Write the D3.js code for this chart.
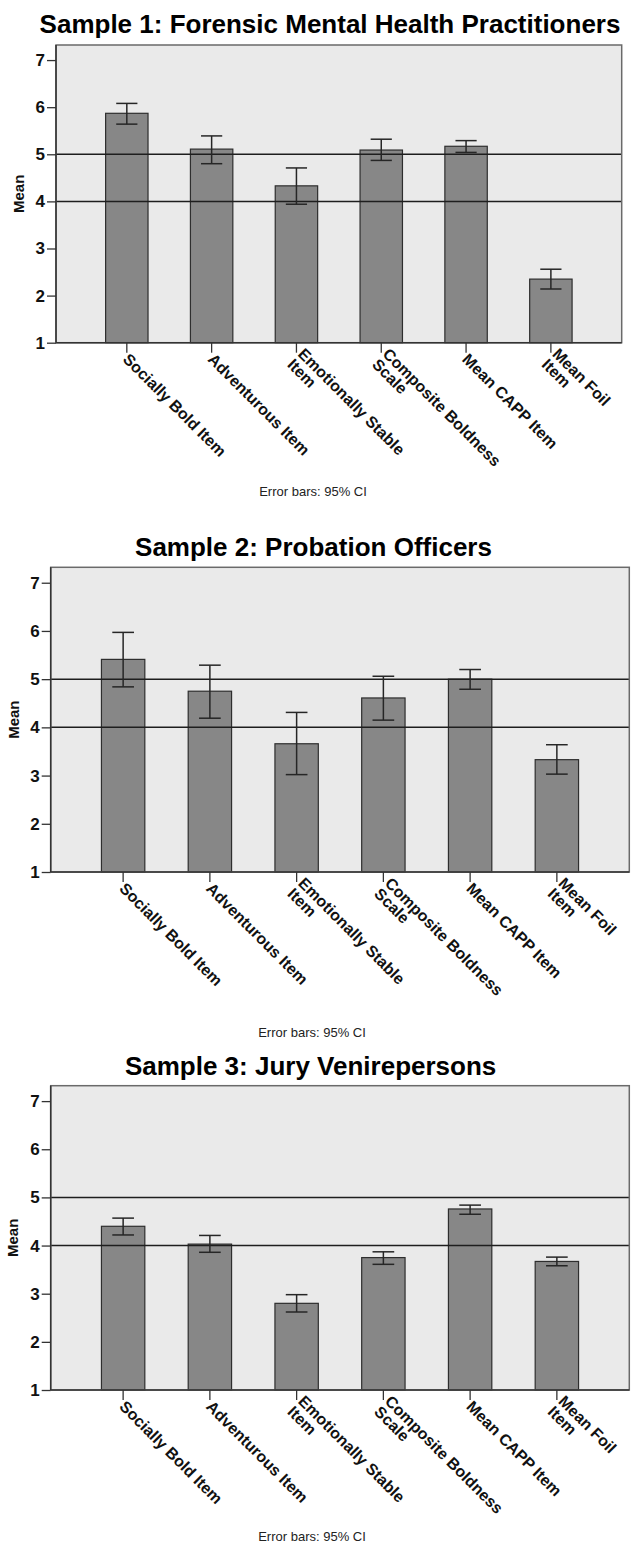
<!DOCTYPE html>
<html>
<head>
<meta charset="utf-8">
<script src="https://cdn.jsdelivr.net/npm/d3@7"></script>
<style>
  body { margin: 0; background: #fff; }
  svg { display: block; font-family: 'Liberation Sans', Arial, sans-serif; }
</style>
</head>
<body>
<script>
// data
const categories = ['Socially Bold Item', 'Adventurous Item', 'Emotionally Stable\nItem', 'Composite Boldness\nScale', 'Mean CAPP Item', 'Mean Foil\nItem']
const titles = ['Sample 1: Forensic Mental Health Practitioners', 'Sample 2: Probation Officers', 'Sample 3: Jury Venirepersons']

const means1 = [5.87, 5.11, 4.33, 5.09, 5.17, 2.35]
const hi1 = [6.08, 5.39, 4.71, 5.32, 5.29, 2.56]
const lo1 = [5.64, 4.8, 3.94, 4.87, 5.04, 2.14]

const means2 = [5.41, 4.75, 3.66, 4.61, 5.0, 3.33]
const hi2 = [5.97, 5.29, 4.31, 5.06, 5.2, 3.64]
const lo2 = [4.84, 4.19, 3.02, 4.15, 4.79, 3.03]

const means3 = [4.4, 4.03, 2.8, 3.75, 4.76, 3.67]
const hi3 = [4.57, 4.21, 2.98, 3.87, 4.84, 3.76]
const lo3 = [4.22, 3.86, 2.62, 3.61, 4.65, 3.58]

const yTicks = [1, 2, 3, 4, 5, 6, 7]
const refLines = [4, 5]
const yLabel = 'Mean'
const note = 'Error bars: 95% CI'

// layout of each panel
const panels = [
  { title: titles[0], means: means1, lo: lo1, hi: hi1, left: 56, right: 621.7, top: 45, bottom: 342.7, titleX: 330, titleY: 33, meanX: 19, noteX: 313, noteY: 496 },
  { title: titles[1], means: means2, lo: lo2, hi: hi2, left: 50.7, right: 629.3, top: 567.3, bottom: 872, titleX: 313.5, titleY: 556, meanX: 13.3, noteX: 312, noteY: 1037 },
  { title: titles[2], means: means3, lo: lo3, hi: hi3, left: 50.7, right: 629.3, top: 1085.7, bottom: 1390, titleX: 310.6, titleY: 1075, meanX: 12.8, noteX: 312, noteY: 1541 },
]

const svg = d3.select('body').append('svg').attr('width', 631).attr('height', 1548)

panels.forEach((p) => {
  const x = d3
    .scaleBand()
    .domain(d3.range(categories.length))
    .range([p.left, p.right])
    .paddingInner(0.5)
    .paddingOuter(0.585)

  const y = d3.scaleLinear().domain([1, 7.32]).range([p.bottom, p.top])
  const bw = x.bandwidth()
  const cx = (i) => x(i) + bw / 2

  const g = svg.append('g')

  g.append('rect')
    .attr('x', p.left)
    .attr('y', p.top)
    .attr('width', p.right - p.left)
    .attr('height', p.bottom - p.top)
    .attr('fill', '#eaeaea')

  g.selectAll('.bar')
    .data(p.means)
    .join('rect')
    .attr('class', 'bar')
    .attr('x', (d, i) => x(i))
    .attr('y', (d) => y(d))
    .attr('width', bw)
    .attr('height', (d) => y(1) - y(d))
    .attr('fill', '#878787')
    .attr('stroke', '#2e2e2e')
    .attr('stroke-width', 1.2)

  g.selectAll('.ref')
    .data(refLines)
    .join('line')
    .attr('class', 'ref')
    .attr('x1', p.left)
    .attr('x2', p.right)
    .attr('y1', (d) => y(d))
    .attr('y2', (d) => y(d))
    .attr('stroke', '#1e1e1e')
    .attr('stroke-width', 1.5)

  // error bars
  const eb = g
    .selectAll('.eb')
    .data(p.means.map((m, i) => ({ i, lo: p.lo[i], hi: p.hi[i] })))
    .join('g')
    .attr('class', 'eb')
    .attr('stroke', '#262626')
    .attr('stroke-width', 1.5)

  eb.append('line')
    .attr('x1', (d) => cx(d.i))
    .attr('x2', (d) => cx(d.i))
    .attr('y1', (d) => y(d.lo))
    .attr('y2', (d) => y(d.hi))
  ;['lo', 'hi'].forEach((k) => {
    eb.append('line')
      .attr('x1', (d) => cx(d.i) - bw / 4)
      .attr('x2', (d) => cx(d.i) + bw / 4)
      .attr('y1', (d) => y(d[k]))
      .attr('y2', (d) => y(d[k]))
  })

  // frame
  g.append('rect')
    .attr('x', p.left)
    .attr('y', p.top)
    .attr('width', p.right - p.left)
    .attr('height', p.bottom - p.top)
    .attr('fill', 'none')
    .attr('stroke', '#6a6a6a')
    .attr('stroke-width', 1.5)

  const yAxis = g
    .append('g')
    .attr('transform', `translate(${p.left},0)`)
    .call(d3.axisLeft(y).tickValues(yTicks).tickSize(9).tickPadding(2).tickFormat(d3.format('d')))
  yAxis.select('.domain').attr('stroke', '#333').attr('stroke-width', 1.5).attr('d', `M0,${p.top}V${p.bottom}`)
  yAxis.selectAll('.tick line').attr('stroke', '#333').attr('stroke-width', 1.3)
  yAxis.selectAll('.tick text').attr('font-size', 17).attr('font-weight', 'bold').attr('fill', '#111')

  const xAxis = g
    .append('g')
    .attr('transform', `translate(0,${p.bottom})`)
    .call(d3.axisBottom(x).tickSize(10).tickFormat(''))
  xAxis.select('.domain').attr('stroke', '#333').attr('stroke-width', 1.5).attr('d', `M${p.left},0H${p.right}`)
  xAxis.selectAll('.tick line').attr('stroke', '#333').attr('stroke-width', 1.3)

  // rotated category labels
  const lineH = 15
  g.selectAll('.xl')
    .data(categories)
    .join('text')
    .attr('class', 'xl')
    .attr('transform', (d, i) => `translate(${cx(i)},${p.bottom + 10}) rotate(45)`)
    .attr('font-size', 16)
    .attr('font-weight', 'bold')
    .attr('fill', '#111')
    .each(function (d) {
      const lines = d.split('\n')
      const off = ((lines.length - 1) * lineH) / 2
      d3.select(this)
        .selectAll('tspan')
        .data(lines)
        .join('tspan')
        .attr('x', 2)
        .attr('y', (l, j) => 8.7 - off + j * lineH)
        .text((l) => l)
    })

  g.append('text')
    .attr('transform', `translate(${p.meanX},${(p.top + p.bottom) / 2}) rotate(-90)`)
    .attr('text-anchor', 'middle')
    .attr('dy', '0.36em')
    .attr('font-size', 15)
    .attr('font-weight', 'bold')
    .attr('fill', '#111')
    .text(yLabel)

  g.append('text')
    .attr('x', p.titleX)
    .attr('y', p.titleY)
    .attr('text-anchor', 'middle')
    .attr('font-size', 26)
    .attr('font-weight', 'bold')
    .attr('fill', '#000')
    .text(p.title)

  g.append('text')
    .attr('x', p.noteX)
    .attr('y', p.noteY)
    .attr('text-anchor', 'middle')
    .attr('font-size', 13)
    .attr('fill', '#222')
    .text(note)
})
</script>
</body>
</html>
